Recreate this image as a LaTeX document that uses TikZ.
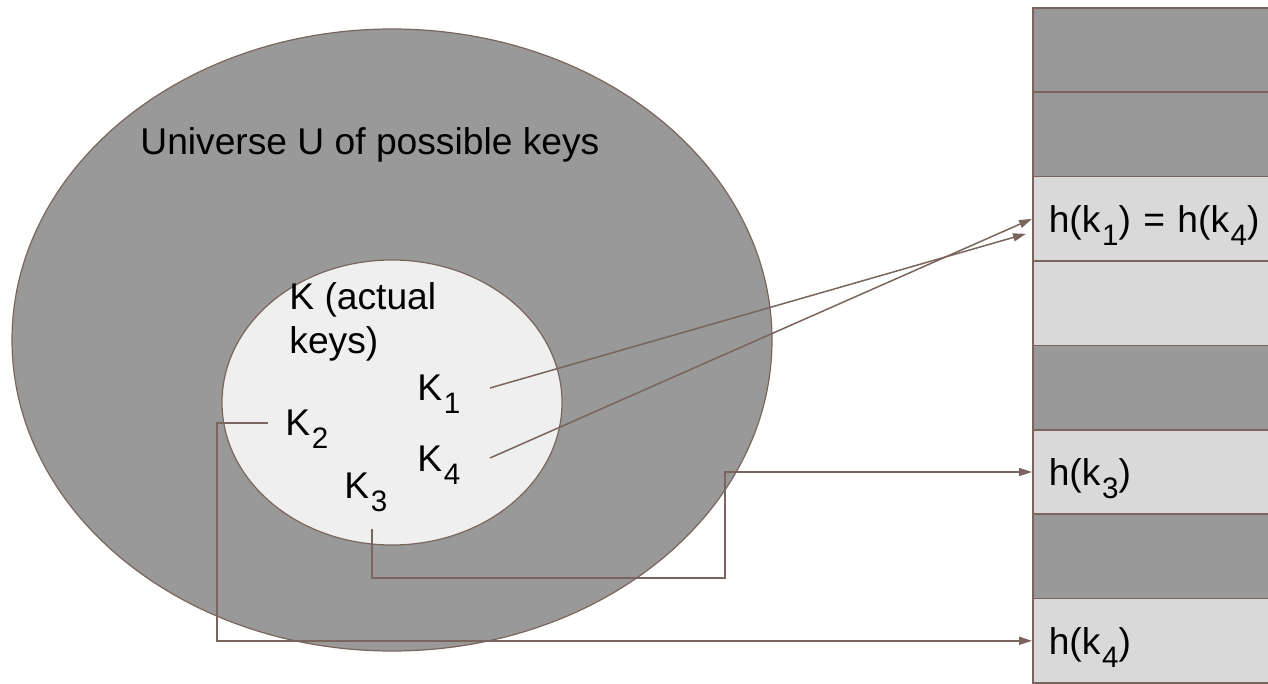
\documentclass[tikz,border=0pt]{standalone}
\usepackage{fontspec}
\setmainfont{Liberation Sans}
\usepackage{graphicx}
\usetikzlibrary{
    arrows.meta,
    calc,
    positioning
}
\definecolor{keyline}{RGB}{121,101,94}
\definecolor{udark}{RGB}{153,153,153}
\definecolor{kpale}{RGB}{239,239,239}
\definecolor{slotpale}{RGB}{217,217,217}
\newcommand{\keyidx}[1]{\kern0.8pt\raisebox{-6.5pt}[0pt][0pt]{\fontsize{14.8}{16}\selectfont #1}}
\tikzset{keytext/.style={inner sep=0pt, font=\fontsize{18.6}{22}\selectfont}}
\tikzset{keylink/.style={draw=keyline, line width=0.75pt}}
\tikzset{sfull/.style={draw=keyline, line width=0.8pt, fill=udark, minimum width=130pt, minimum height=42.2pt, inner sep=0pt, anchor=north west}}
\tikzset{sused/.style={sfull, fill=slotpale, font=\fontsize{18.6}{22}\selectfont, text width=114pt, inner xsep=7pt, align=left, text height=13.3pt, text depth=0pt}}

\begin{document}
\begin{tikzpicture}[x=0.5pt, y=-0.5pt, >={Triangle[length=6.5pt, width=4pt]}]
    \useasboundingbox (0, 0) rectangle (1268, 684);

    \draw[draw=keyline, line width=0.6pt, fill=udark] (392, 340) ellipse [x radius=380, y radius=311];
    \draw[draw=keyline, line width=0.6pt, fill=kpale] (392, 402.5) ellipse [x radius=170, y radius=142.5];

    \node[keytext, anchor=base west] (universe) at (140, 155) {Universe U of possible keys};
    \node[keytext, anchor=north west, align=left] (actual) at (289, 282) {K (actual\\keys)};

    \node[keytext, anchor=base west] (k1) at (417, 400) {K\keyidx{1}};
    \node[keytext, anchor=base west] (k2) at (285, 435) {K\keyidx{2}};
    \node[keytext, anchor=base west] (k3) at (344, 498) {K\keyidx{3}};
    \node[keytext, anchor=base west] (k4) at (417, 471) {K\keyidx{4}};

    \node[sfull] (slot1) at (1032, 7) {};
    \node[sfull] (slot2) at (1032, 91.4) {};
    \node[sused] (slot3) at (1032, 175.8) {h(k\keyidx{1}) = h(k\keyidx{4})};
    \node[sused] (slot4) at (1032, 260.2) {};
    \node[sfull] (slot5) at (1032, 344.6) {};
    \node[sused] (slot6) at (1032, 429) {h(k\keyidx{3})};
    \node[sfull] (slot7) at (1032, 513.4) {};
    \node[sused] (slot8) at (1032, 597.8) {h(k\keyidx{4})};

    \draw[keylink, ->] ($(k1.base west)+(73, -12)$) -- ($(slot3.west)+(-6, 15)$);
    \draw[keylink, ->] ($(k4.base west)+(73, -13)$) -- (slot3.west);
    \draw[keylink, ->] ($(k3.base west)+(28, 31)$) -- ++(0, 49) -- ++(353, 0) |- (slot6.west);
    \draw[keylink, ->] ($(k2.base west)+(-17, -12)$) -- ++(-51, 0) |- (slot8.west);
\end{tikzpicture}
\end{document}
